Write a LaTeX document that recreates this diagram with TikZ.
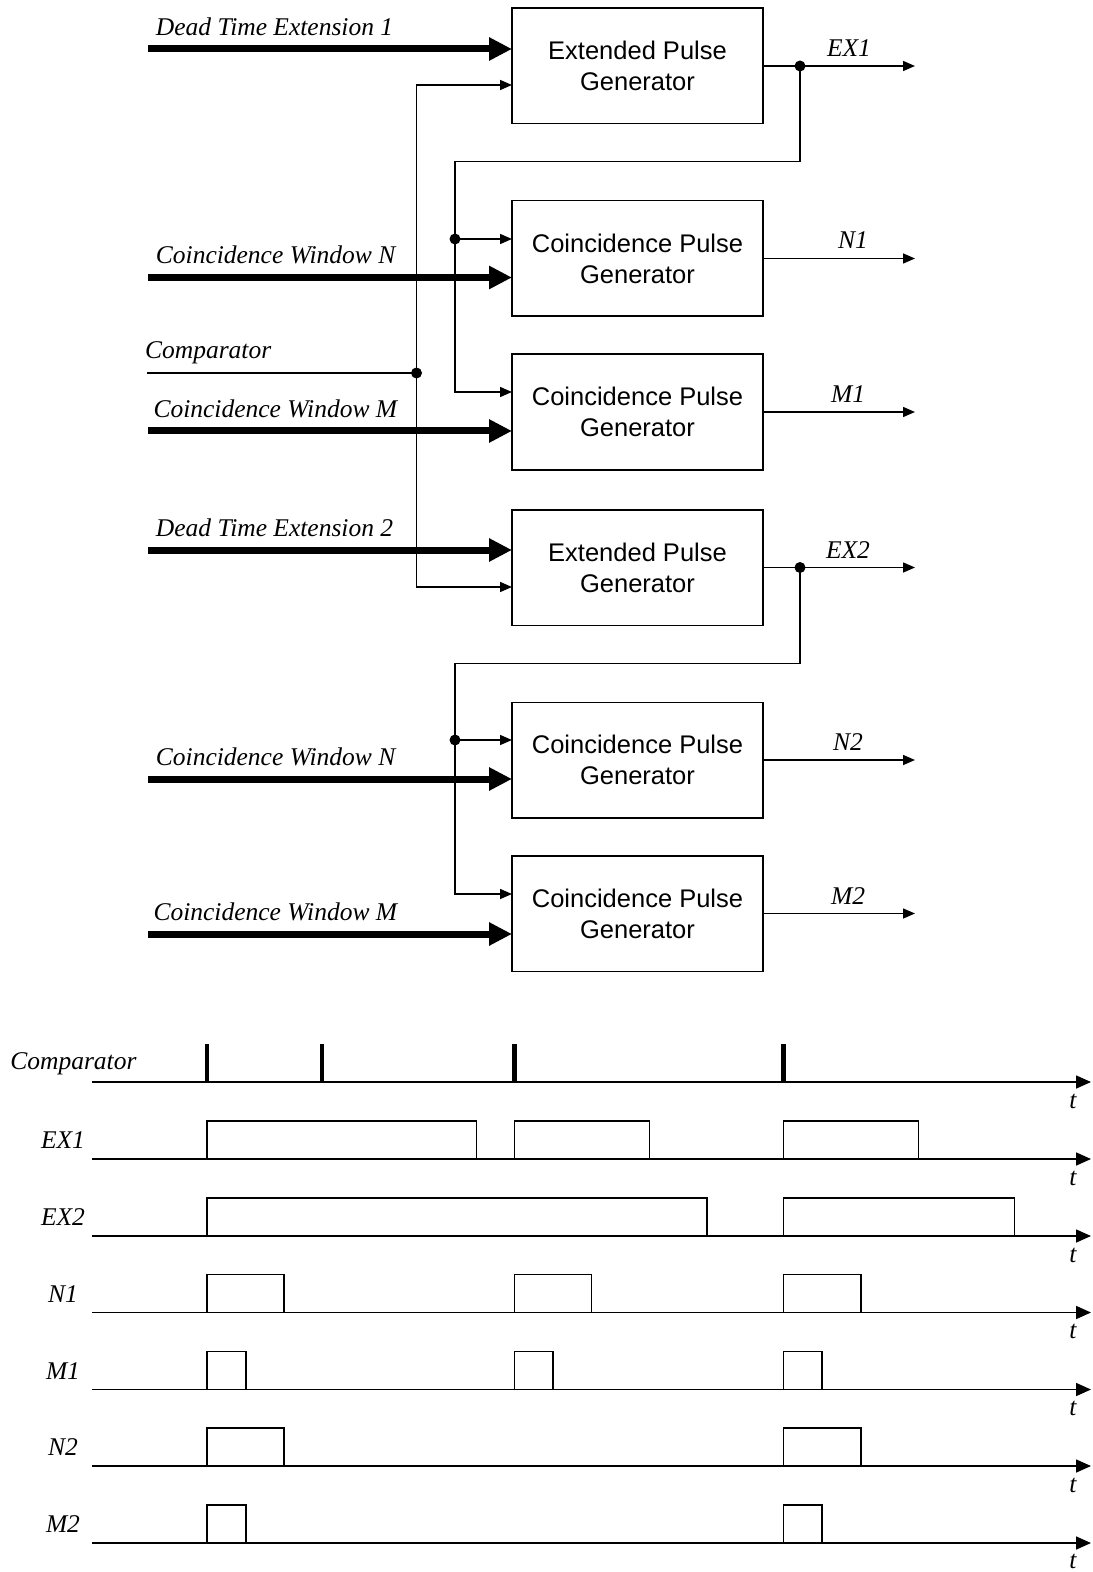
\documentclass[tikz,border=0pt]{standalone}
\usepackage{fontspec}
\setmainfont{Liberation Serif}
\setsansfont{Liberation Sans}
\usetikzlibrary{arrows.meta, positioning}

\begin{document}
\begin{tikzpicture}[x=0.5pt, y=-0.5pt, node distance=19pt,
    >={Triangle[length=6pt, width=5pt]},
    pgen/.style={draw, line width=0.75pt, minimum width=125.5pt, minimum height=57.75pt,
        inner sep=0pt, outer sep=0pt, align=center, font=\sffamily\fontsize{12.75}{15.5}\selectfont},
    lbl/.style={inner sep=0pt, font=\itshape\fontsize{12.75}{15}\selectfont},
    inlbl/.style={lbl, anchor=base west},
    outlbl/.style={lbl, anchor=base},
    bus/.style={line width=3.5pt, -{Triangle[length=11.5pt, width=11pt]}},
    sig/.style={line width=0.75pt},
    dot/.style={circle, fill, inner sep=0pt, minimum size=5.5pt},
    axis/.style={line width=0.8pt, -{Triangle[length=7.5pt, width=6.5pt]}},
    pulse/.style={line width=0.8pt},
    tickmark/.style={line width=2.3pt}]

    \useasboundingbox (0,0) rectangle (1092,1572);

    % generator blocks
    \node (epg1) [pgen] at (637.5,66) {Extended Pulse\\Generator};
    \node (cpgn1) [pgen, below=38.5pt of epg1] {Coincidence Pulse\\Generator};
    \node (cpgm1) [pgen, below=of cpgn1] {Coincidence Pulse\\Generator};
    \node (epg2) [pgen, below=20pt of cpgm1] {Extended Pulse\\Generator};
    \node (cpgn2) [pgen, below=38.5pt of epg2] {Coincidence Pulse\\Generator};
    \node (cpgm2) [pgen, below=of cpgn2] {Coincidence Pulse\\Generator};

    % thick inputs
    \coordinate (dte1) at (148,49);
    \coordinate (cwn1) at (148,277.5);
    \coordinate (cwm1) at (148,431);
    \coordinate (dte2) at (148,550);
    \coordinate (cwn2) at (148,779);
    \coordinate (cwm2) at (148,934);
    \draw[bus] (dte1) node[inlbl, xshift=2.2pt, yshift=6.75pt] (dte1lbl) {Dead Time Extension 1} -- (dte1 -| epg1.west);
    \draw[bus] (cwn1) node[inlbl, xshift=2.2pt, yshift=6.75pt] (cwn1lbl) {Coincidence Window N} -- (cwn1 -| cpgn1.west);
    \draw[bus] (cwm1) node[inlbl, xshift=1pt, yshift=6.75pt] (cwm1lbl) {Coincidence Window M} -- (cwm1 -| cpgm1.west);
    \draw[bus] (dte2) node[inlbl, xshift=2.2pt, yshift=6.75pt] (dte2lbl) {Dead Time Extension 2} -- (dte2 -| epg2.west);
    \draw[bus] (cwn2) node[inlbl, xshift=2.2pt, yshift=6.75pt] (cwn2lbl) {Coincidence Window N} -- (cwn2 -| cpgn2.west);
    \draw[bus] (cwm2) node[inlbl, xshift=1pt, yshift=6.75pt] (cwm2lbl) {Coincidence Window M} -- (cwm2 -| cpgm2.west);

    % comparator
    \coordinate (cmp) at (147,373);
    \coordinate (cj) at (416.5,373);
    \coordinate (ctop) at (416.5,85);
    \coordinate (cbot) at (416.5,587);
    \draw[sig] (cmp) node[inlbl, xshift=-1.3pt, yshift=7pt] (cmplbl) {Comparator} -- (cj);
    \draw[sig, <->] (ctop -| epg1.west) -- (ctop) -- (cbot) -- (cbot -| epg2.west);
    \node (cjdot) [dot] at (cj) {};

    % outputs
    \coordinate (outx) at (915,0);
    \draw[sig, ->] (epg1.east) -- (epg1.east -| outx);
    \draw[sig, ->] (cpgn1.east) -- (cpgn1.east -| outx);
    \draw[sig, ->] (cpgm1.east) -- (cpgm1.east -| outx);
    \draw[sig, ->] (epg2.east) -- (epg2.east -| outx);
    \draw[sig, ->] (cpgn2.east) -- (cpgn2.east -| outx);
    \draw[sig, ->] (cpgm2.east) -- (cpgm2.east -| outx);
    \node (ex1lbl) [outlbl] at (849,56.5) {EX1};
    \node (n1lbl) [outlbl] at (853,249) {N1};
    \node (m1lbl) [outlbl] at (848,402.5) {M1};
    \node (ex2lbl) [outlbl] at (848,558) {EX2};
    \node (n2lbl) [outlbl] at (848,750.5) {N2};
    \node (m2lbl) [outlbl] at (848,904) {M2};

    % EX1 feeds N1 and M1
    \coordinate (j1) at (800,66);
    \coordinate (b1) at (455,161.5);
    \coordinate (n1in) at (455,239);
    \coordinate (m1in) at (455,392);
    \draw[sig, ->] (j1) |- (b1) -- (m1in) -- (m1in -| cpgm1.west);
    \draw[sig, ->] (n1in) -- (n1in -| cpgn1.west);
    \node (j1dot) [dot] at (j1) {};
    \node (n1dot) [dot] at (n1in) {};

    % EX2 feeds N2 and M2
    \coordinate (j2) at (800,567.5);
    \coordinate (b2) at (455,663.5);
    \coordinate (n2in) at (455,740);
    \coordinate (m2in) at (455,894);
    \draw[sig, ->] (j2) |- (b2) -- (m2in) -- (m2in -| cpgm2.west);
    \draw[sig, ->] (n2in) -- (n2in -| cpgn2.west);
    \node (j2dot) [dot] at (j2) {};
    \node (n2dot) [dot] at (n2in) {};

    % timing diagram
    \draw[axis] (92,1082) -- (1091,1082);
    \draw[axis] (92,1159) -- (1091,1159);
    \draw[axis] (92,1236) -- (1091,1236);
    \draw[axis] (92,1312.5) -- (1091,1312.5);
    \draw[axis] (92,1389.5) -- (1091,1389.5);
    \draw[axis] (92,1466) -- (1091,1466);
    \draw[axis] (92,1543) -- (1091,1543);
    \node (tcmp) [lbl, anchor=base west] at (10,1069) {Comparator};
    \node (tex1) [outlbl] at (63,1148.5) {EX1};
    \node (tex2) [outlbl] at (63,1225.5) {EX2};
    \node (tn1) [outlbl] at (63,1302) {N1};
    \node (tm1) [outlbl] at (63,1379) {M1};
    \node (tn2) [outlbl] at (63,1455.5) {N2};
    \node (tm2) [outlbl] at (63,1532.5) {M2};
    \node (t1) [outlbl] at (1073,1108) {t};
    \node (t2) [outlbl] at (1073,1185) {t};
    \node (t3) [outlbl] at (1073,1262) {t};
    \node (t4) [outlbl] at (1073,1338.5) {t};
    \node (t5) [outlbl] at (1073,1415.5) {t};
    \node (t6) [outlbl] at (1073,1492) {t};
    \node (t7) [outlbl] at (1073,1568) {t};

    % comparator ticks
    \draw[tickmark] (207,1082) -- (207,1044);
    \draw[tickmark] (322,1082) -- (322,1044);
    \draw[tickmark] (514.5,1082) -- (514.5,1044);
    \draw[tickmark] (783.5,1082) -- (783.5,1044);

    % pulses
    \draw[pulse] (207,1159) |- (476.3,1121) -- (476.3,1159);
    \draw[pulse] (514.5,1159) |- (649.3,1121) -- (649.3,1159);
    \draw[pulse] (783.5,1159) |- (918.3,1121) -- (918.3,1159);
    \draw[pulse] (207,1236) |- (706.7,1198) -- (706.7,1236);
    \draw[pulse] (783.5,1236) |- (1014.3,1198) -- (1014.3,1236);
    \draw[pulse] (207,1312.5) |- (284,1274.5) -- (284,1312.5);
    \draw[pulse] (514.5,1312.5) |- (591.6,1274.5) -- (591.6,1312.5);
    \draw[pulse] (783.5,1312.5) |- (860.8,1274.5) -- (860.8,1312.5);
    \draw[pulse] (207,1389.5) |- (246,1351.5) -- (246,1389.5);
    \draw[pulse] (514.5,1389.5) |- (553.2,1351.5) -- (553.2,1389.5);
    \draw[pulse] (783.5,1389.5) |- (822,1351.5) -- (822,1389.5);
    \draw[pulse] (207,1466) |- (284,1428) -- (284,1466);
    \draw[pulse] (783.5,1466) |- (860.8,1428) -- (860.8,1466);
    \draw[pulse] (207,1543) |- (246,1505) -- (246,1543);
    \draw[pulse] (783.5,1543) |- (822,1505) -- (822,1543);
\end{tikzpicture}
\end{document}
